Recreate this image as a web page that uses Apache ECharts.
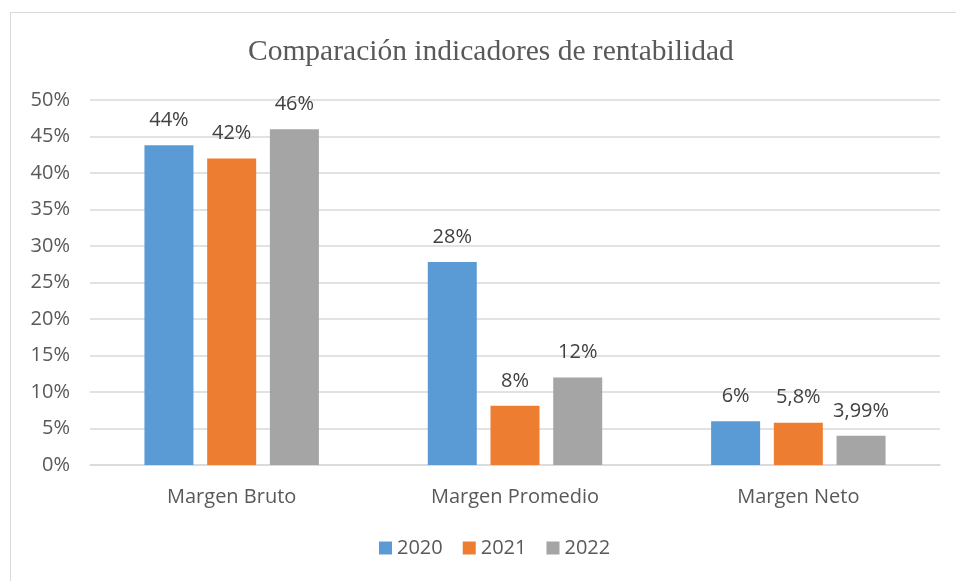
<!DOCTYPE html>
<html>
<head>
<meta charset="utf-8">
<script src="https://cdn.jsdelivr.net/npm/echarts@6/dist/echarts.min.js"></script>
<style>
  html, body { margin: 0; padding: 0; background: #fff; overflow: hidden; }
  .frame {
    position: absolute; left: 10px; top: 12px;
    width: 1000px; height: 700px;
    border: 1px solid #d9d9d9;
  }
  #chart { position: absolute; left: 0; top: 0; width: 956px; height: 581px; }
</style>
</head>
<body>
<div class="frame"></div>
<div id="chart"></div>
<script>
  // datos
  const categorias = ['Margen Bruto', 'Margen Promedio', 'Margen Neto'];
  const anios = ['2020', '2021', '2022'];
  const valores2020 = [43.8, 27.8, 6];
  const valores2021 = [42, 8.1, 5.8];
  const valores2022 = [46, 12, 3.99];
  const etiquetas2020 = ['44%', '28%', '6%'];
  const etiquetas2021 = ['42%', '8%', '5,8%'];
  const etiquetas2022 = ['46%', '12%', '3,99%'];
  const colores = ['#5b9bd5', '#ed7d31', '#a5a5a5'];

  const chart = echarts.init(document.getElementById('chart'));

  function serie(nombre, datos, etiquetas, color) {
    return {
      name: nombre,
      type: 'bar',
      barWidth: 49,
      barGap: '28%',
      itemStyle: { color: color },
      label: {
        show: true,
        position: 'top',
        distance: 15,
        fontFamily: 'Open Sans',
        fontSize: 20,
        color: '#404040',
        formatter: p => etiquetas[p.dataIndex]
      },
      data: datos
    };
  }

  chart.setOption({
    animation: false,
    title: {
      text: 'Comparación indicadores de rentabilidad',
      left: 243,
      top: 32,
      textStyle: {
        fontFamily: 'Liberation Serif',
        fontWeight: 'normal',
        fontSize: 29.5,
        color: '#595959'
      }
    },
    legend: {
      bottom: 18,
      left: 374,
      itemWidth: 13,
      itemHeight: 13,
      itemGap: 20,
      icon: 'rect',
      textStyle: { fontFamily: 'Open Sans', fontSize: 20, color: '#595959' },
      data: anios
    },
    grid: { left: 90, right: 16, top: 100, bottom: 116 },
    xAxis: {
      type: 'category',
      data: categorias,
      axisTick: { show: false },
      axisLine: { lineStyle: { color: '#d9d9d9', width: 1.5 } },
      axisLabel: { fontFamily: 'Open Sans', fontSize: 20, color: '#595959', margin: 22 }
    },
    yAxis: {
      type: 'value',
      min: 0,
      max: 50,
      interval: 5,
      axisLabel: {
        fontFamily: 'Open Sans', fontSize: 20, color: '#595959', margin: 20,
        formatter: '{value}%'
      },
      splitLine: { lineStyle: { color: '#d9d9d9', width: 1.5 } }
    },
    series: [
      serie(anios[0], valores2020, etiquetas2020, colores[0]),
      serie(anios[1], valores2021, etiquetas2021, colores[1]),
      serie(anios[2], valores2022, etiquetas2022, colores[2])
    ]
  });
</script>
</body>
</html>
